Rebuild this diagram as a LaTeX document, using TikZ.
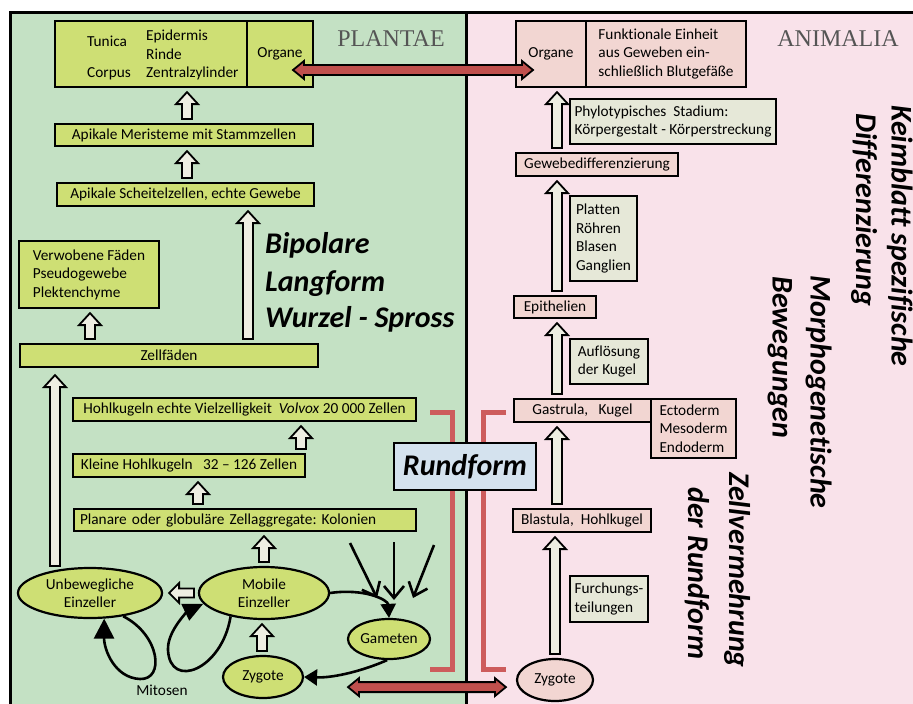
\documentclass[tikz,border=0pt]{standalone}
\usepackage{fontspec}
\setmainfont{Carlito}[Ligatures={TeX,NoCommon}]
\newfontfamily\titlefont{Liberation Serif}
\usetikzlibrary{arrows.meta,shapes.geometric,calc}
\frenchspacing
\definecolor{bggreen}{RGB}{196,225,196}
\definecolor{bgpink}{RGB}{249,226,234}
\definecolor{boxyellow}{RGB}{206,223,116}
\definecolor{boxpink}{RGB}{242,214,210}
\definecolor{boxgrey}{RGB}{230,232,216}
\definecolor{hollowfill}{RGB}{238,238,226}
\definecolor{rundblue}{RGB}{212,226,238}
\definecolor{redarrow}{RGB}{192,80,77}
\definecolor{redline}{RGB}{205,92,92}
\definecolor{titlegrey}{RGB}{85,85,85}
\tikzset{
  txt/.style={font=\fontsize{15.3}{18.5}\selectfont},
  box/.style={txt, draw=black, line width=2.2pt, rectangle, inner sep=2pt, align=left},
  ybox/.style={box, fill=boxyellow},
  pbox/.style={box, fill=boxpink},
  gbox/.style={box, fill=boxgrey},
  yell/.style={txt, ellipse, draw=black, line width=2.2pt, fill=boxyellow, inner sep=0pt, align=center},
  pell/.style={yell, fill=boxpink},
  lbl/.style={txt, inner sep=0pt, anchor=base west},
  big/.style={font=\fontsize{30}{36}\selectfont\bfseries\itshape, inner sep=0pt},
  vbig/.style={big, rotate=-90, anchor=base west},
  title/.style={font=\titlefont\fontsize{24}{24}\selectfont, text=titlegrey, inner sep=0pt},
  hollow/.style={draw=black, line width=1.8pt, fill=hollowfill, line join=miter},
  redblock/.style={draw=black, line width=1.8pt, fill=redarrow, line join=miter},
  blk/.style={draw=black, line width=2.6pt},
  bracket/.style={draw=redline, line width=5pt}
}
\newcommand\hollowup[2]{%
  \path[hollow] let \p1=#1, \p2=#2 in
    (\x1-5pt,\y1+4pt) -- (\x1-5pt,\y2-16pt) -- (\x1-11pt,\y2-16pt) -- (\x1,\y2-4pt)
    -- (\x1+11pt,\y2-16pt) -- (\x1+5pt,\y2-16pt) -- (\x1+5pt,\y1+4pt) -- cycle;}
\newcommand\hollowleft[2]{%
  \path[hollow] let \p1=#1, \p2=#2 in
    (\x1-4pt,\y1-4.5pt) -- (\x2+16pt,\y1-4.5pt) -- (\x2+16pt,\y1-10pt) -- (\x2+6pt,\y1)
    -- (\x2+16pt,\y1+10pt) -- (\x2+16pt,\y1+4.5pt) -- (\x1-4pt,\y1+4.5pt) -- cycle;}
\newcommand\reddouble[2]{%
  \path[redblock] let \p1=#1, \p2=#2 in
    (\x1,\y1) -- (\x1+11pt,\y1+9pt) -- (\x1+11pt,\y1+5pt) -- (\x2-11pt,\y1+5pt)
    -- (\x2-11pt,\y1+9pt) -- (\x2,\y1) -- (\x2-11pt,\y1-9pt) -- (\x2-11pt,\y1-5pt)
    -- (\x1+11pt,\y1-5pt) -- (\x1+11pt,\y1-9pt) -- cycle;}
\begin{document}
\begin{tikzpicture}[x=1pt,y=-1pt]
\useasboundingbox (0,0) rectangle (913,704);
% backgrounds and frame
\fill[white] (0,0) rectangle (913,704);
\fill[bggreen] (10,12) rectangle (466,704);
\fill[bgpink] (466,12) rectangle (913,704);
\draw[line width=3pt] (10,704) -- (10,12) -- (913,12);
\draw[line width=3pt] (466,12) -- (466,704);
% red brackets
\draw[bracket] (430,412) -- (452,412) -- (452,669) -- (430,669);
\draw[bracket] (506,412) -- (483,412) -- (483,669) -- (506,669);
% titles
\node[title] (plt) at (391,38.5) {PLANTAE};
\node[title] (anm) at (838,39) {ANIMALIA};
% ---------- PLANTAE ----------
\node[ybox, minimum width=192pt, minimum height=66pt] (lt) at (151,54) {};
\node[ybox, minimum width=66pt, minimum height=66pt] (lorg) at (280,54) {Organe};
\node[lbl] (tun) at (87,46) {Tunica};
\node[lbl] (cor) at (87,77) {Corpus};
\node[lbl] (epi1) at (146,40) {Epidermis};
\node[lbl] (rin) at (146,59) {Rinde};
\node[lbl] (zen) at (146,77) {Zentralzylinder};
\node[ybox, minimum width=258pt, minimum height=22pt] (ams) at (184,135) {Apikale Meristeme mit Stammzellen};
\node[ybox, minimum width=257pt, minimum height=23pt] (asz) at (185.5,194.5) {Apikale Scheitelzellen, echte Gewebe};
\node[ybox, minimum width=140pt, minimum height=67pt] (vf) at (89,274.5) {Verwobene Fäden\\Pseudogewebe\\Plektenchyme};
\node[ybox, minimum width=298pt, minimum height=23pt] (zf) at (169,355.5) {Zellfäden};
\node[ybox, minimum width=343pt, minimum height=23pt] (hk) at (244.5,409.5) {Hohlkugeln echte Vielzelligkeit\ \ \textit{Volvox} 20 000 Zellen};
\node[ybox, minimum width=232pt, minimum height=23pt] (khk) at (189,465.5) {Kleine Hohlkugeln\ \ \ 32 – 126 Zellen};
\node[ybox, text width=330pt, inner xsep=6pt, minimum height=22pt] (pl) at (245,520) {Planare oder globuläre Zellaggregate: Kolonien};
\node[yell, minimum width=144pt, minimum height=50pt] (unb) at (90,593) {Unbewegliche\\Einzeller};
\node[yell, minimum width=130pt, minimum height=52pt] (mob) at (264,593) {Mobile\\Einzeller};
\node[yell, minimum width=82pt, minimum height=40pt] (gam) at (389,639) {Gameten};
\node[yell, minimum width=80pt, minimum height=42pt] (zyl) at (263,677) {Zygote};
\node[txt, inner sep=0pt, anchor=base] (mit) at (162,695) {Mitosen};
\node[big, anchor=base west] (bl1) at (265,253) {Bipolare};
\node[big, anchor=base west] (bl2) at (265,291) {Langform};
\node[big, anchor=base west] (bl3) at (265,327) {Wurzel - Spross};
% hollow arrows left
\hollowup{([xshift=3pt]ams.north)}{(lt.south)}
\hollowup{([xshift=1.5pt]asz.north)}{(ams.south)}
\hollowup{([xshift=79pt]zf.north)}{(asz.south)}
\hollowup{([xshift=-79pt]zf.north)}{(vf.south)}
\hollowup{([xshift=-35pt,yshift=-3pt]unb.north)}{([yshift=-3pt]zf.south)}
\hollowup{([xshift=112pt]khk.north)}{(hk.south)}
\hollowup{([xshift=-47pt]pl.north)}{(khk.south)}
\hollowup{(mob.north)}{(pl.south)}
\hollowup{([xshift=-1pt]zyl.north)}{(mob.south)}
\hollowleft{(mob.west)}{(unb.east)}
% black arrows left
\draw[blk, -{Triangle[length=14pt,width=15pt]}] (mob.east) .. controls (365,588) and (388,600) .. (gam.north);
\draw[blk, -{Triangle[length=13pt,width=16pt]}] (gam.265) .. controls (365,670) and (335,678) .. (zyl.east);
\coordinate (v1) at (350,543); \coordinate (v1e) at (377,598);
\coordinate (v2) at (394,542); \coordinate (v2e) at (394,600);
\coordinate (v3) at (434,545); \coordinate (v3e) at (413,598);
\draw[blk, -{Straight Barb[length=12pt,width=20pt]}] (v1) -- (v1e);
\draw[blk, -{Straight Barb[length=12pt,width=20pt]}] (v2) -- (v2e);
\draw[blk, -{Straight Barb[length=12pt,width=20pt]}] (v3) -- (v3e);
\draw[blk, -{Triangle[length=20pt,width=18pt]}] (mob.215) .. controls (222,670) and (170,690) .. (168,650) .. controls (167,630) and (190,610) .. (mob.190);
\draw[blk, -{Triangle[length=20pt,width=20pt]}] (unb.-35) .. controls (160,635) and (165,680) .. (140,679) .. controls (115,678) and (104,650) .. (unb.-61);
% ---------- ANIMALIA ----------
\node[pbox, minimum width=70pt, minimum height=66pt] (rorg) at (551,54) {Organe};
\node[pbox, minimum width=160pt, minimum height=66pt] (rfe) at (666,54) {Funktionale Einheit\\aus Geweben ein-\\schließlich Blutgefäße};
\node[gbox, minimum width=206pt, minimum height=45pt] (phy) at (673,121.5) {Phylotypisches\ \ Stadium:\\Körpergestalt - Körperstreckung};
\node[pbox, minimum width=162pt, minimum height=23pt] (gd) at (597,164.5) {Gewebedifferenzierung};
\node[gbox, minimum width=67pt, minimum height=85pt] (plat) at (603.5,238.5) {Platten\\Röhren\\Blasen\\Ganglien};
\node[pbox, minimum width=82pt, minimum height=22pt] (epi) at (555,307) {Epithelien};
\node[gbox, minimum width=78pt, minimum height=45pt] (auf) at (609,361.5) {Auflösung\\der Kugel};
\node[pbox, minimum width=137pt, minimum height=23pt] (gas) at (582.5,410.5) {Gastrula,\ \ \ Kugel};
\node[pbox, minimum width=85pt, minimum height=59pt] (ect) at (693.5,428.5) {Ectoderm\\Mesoderm\\Endoderm};
\node[pbox, minimum width=138pt, minimum height=23pt] (bla) at (582,520.5) {Blastula,\ \ Hohlkugel};
\node[gbox, minimum width=78pt, minimum height=46pt] (fur) at (609,599) {Furchungs-\\teilungen};
\node[pell, minimum width=76pt, minimum height=42pt] (zyr) at (555,680) {Zygote};
\hollowup{([xshift=-40pt]gd.north)}{(rorg.south)}
\hollowup{([xshift=2pt]epi.north)}{(gd.south)}
\hollowup{([xshift=-25.5pt]gas.north)}{(epi.south)}
\hollowup{([xshift=-25pt]bla.north)}{(gas.south)}
\hollowup{(zyr.north)}{(bla.south)}
\node[vbig] (kb1) at (891.5,105) {Keimblatt spezifische};
\node[vbig] (kb2) at (856,113) {Differenzierung};
\node[vbig] (mg1) at (810.5,275) {Morphogenetische};
\node[vbig] (mg2) at (772.5,276) {Bewegungen};
\node[vbig] (zv1) at (729,472) {Zellvermehrung};
\node[vbig] (zv2) at (688,487) {der Rundform};
% ---------- middle ----------
\node[box, fill=rundblue, font=\fontsize{30}{36}\selectfont\bfseries\itshape, minimum width=142pt, minimum height=47pt, align=center] (rf) at (465,466.5) {Rundform};
\reddouble{([shift={(13pt,-16pt)}]lorg.center)}{([xshift=-18pt]rorg.center)}
\reddouble{([shift={(-41pt,-27pt)}]gam.south)}{([xshift=-10pt]zyr.west)}
\end{tikzpicture}
\end{document}
